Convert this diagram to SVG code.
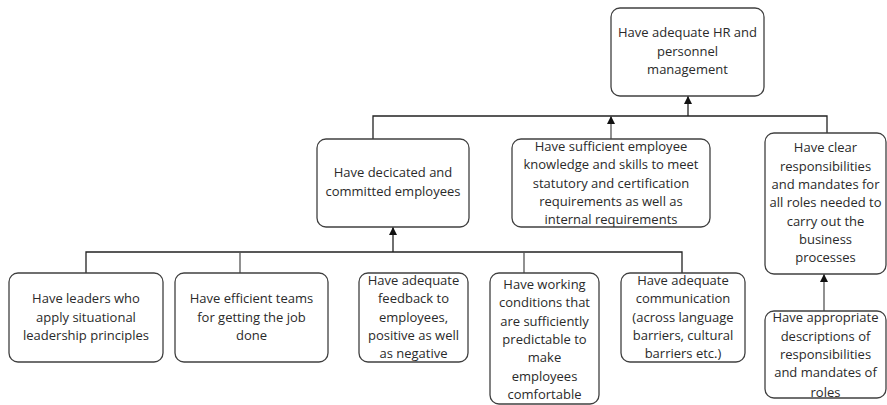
<svg xmlns="http://www.w3.org/2000/svg" width="887" height="405" viewBox="0 0 887 405">
<style>
.box{fill:#fff;stroke:#404040;stroke-width:1.3}
.t{font-family:"Open Sans","Noto Sans",sans-serif;font-size:13px;fill:#2a2a2a;text-anchor:middle}
.c{fill:none;stroke:#222;stroke-width:1.3}
.cg{fill:none;stroke:#555;stroke-width:1.3}
</style>
<defs>
<marker id="ah" viewBox="0 0 8 10" refX="8" refY="5" markerWidth="8" markerHeight="10" markerUnits="userSpaceOnUse" orient="auto">
<path d="M0,1 L8,5 L0,9 z" fill="#111"/>
</marker>
</defs>
<rect width="887" height="405" fill="#fff"/>
<g id="connectors">
<path class="c" d="M373,139 V116 H827 V133"/>
<path class="c" d="M688,116 V96" marker-end="url(#ah)"/>
<path class="cg" d="M611,139 V116" marker-end="url(#ah)"/>
<path class="c" d="M86,273 V252 H682 V273"/>
<path class="cg" d="M240,273 V252"/>
<path class="cg" d="M524,273 V252"/>
<path class="c" d="M393,252 V227" marker-end="url(#ah)"/>
<path class="cg" d="M824,311 V274" marker-end="url(#ah)"/>
</g>
<g id="n-top">
<rect class="box" x="611" y="8" width="153" height="88" rx="9"/>
<text class="t" x="687.5" y="37">Have adequate HR and</text>
<text class="t" x="687.5" y="56">personnel</text>
<text class="t" x="687.5" y="74">management</text>
</g>
<g id="n-dedicated">
<rect class="box" x="317" y="139" width="152" height="88" rx="9"/>
<text class="t" x="393" y="177">Have decicated and</text>
<text class="t" x="393" y="196">committed employees</text>
</g>
<g id="n-knowledge">
<rect class="box" x="512" y="139" width="198" height="88" rx="9"/>
<text class="t" x="611" y="151">Have sufficient employee</text>
<text class="t" x="611" y="169">knowledge and skills to meet</text>
<text class="t" x="611" y="188">statutory and certification</text>
<text class="t" x="611" y="206">requirements as well as</text>
<text class="t" x="611" y="224">internal requirements</text>
</g>
<g id="n-responsibilities">
<rect class="box" x="765" y="133" width="121" height="141" rx="9"/>
<text class="t" x="825.5" y="152">Have clear</text>
<text class="t" x="825.5" y="171">responsibilities</text>
<text class="t" x="825.5" y="189">and mandates for</text>
<text class="t" x="825.5" y="207">all roles needed to</text>
<text class="t" x="825.5" y="226">carry out the</text>
<text class="t" x="825.5" y="244">business</text>
<text class="t" x="825.5" y="262">processes</text>
</g>
<g id="n-descriptions">
<rect class="box" x="765" y="311" width="121" height="87" rx="9"/>
<text class="t" x="825.5" y="322">Have appropriate</text>
<text class="t" x="825.5" y="341">descriptions of</text>
<text class="t" x="825.5" y="359">responsibilities</text>
<text class="t" x="825.5" y="377">and mandates of</text>
<text class="t" x="825.5" y="397">roles</text>
</g>
<g id="n-leaders">
<rect class="box" x="9" y="273" width="154" height="89" rx="9"/>
<text class="t" x="86" y="303">Have leaders who</text>
<text class="t" x="86" y="322">apply situational</text>
<text class="t" x="86" y="340">leadership principles</text>
</g>
<g id="n-teams">
<rect class="box" x="175" y="273" width="153" height="89" rx="9"/>
<text class="t" x="251.5" y="303">Have efficient teams</text>
<text class="t" x="251.5" y="322">for getting the job</text>
<text class="t" x="251.5" y="340">done</text>
</g>
<g id="n-feedback">
<rect class="box" x="359" y="273" width="109" height="89" rx="9"/>
<text class="t" x="413.5" y="285">Have adequate</text>
<text class="t" x="413.5" y="303">feedback to</text>
<text class="t" x="413.5" y="322">employees,</text>
<text class="t" x="413.5" y="340">positive as well</text>
<text class="t" x="413.5" y="358">as negative</text>
</g>
<g id="n-conditions">
<rect class="box" x="490" y="273" width="109" height="131" rx="9"/>
<text class="t" x="544.5" y="289">Have working</text>
<text class="t" x="544.5" y="307">conditions that</text>
<text class="t" x="544.5" y="326">are sufficiently</text>
<text class="t" x="544.5" y="344">predictable to</text>
<text class="t" x="544.5" y="362">make</text>
<text class="t" x="544.5" y="381">employees</text>
<text class="t" x="544.5" y="399">comfortable</text>
</g>
<g id="n-communication">
<rect class="box" x="621" y="273" width="124" height="89" rx="9"/>
<text class="t" x="683" y="285">Have adequate</text>
<text class="t" x="683" y="303">communication</text>
<text class="t" x="683" y="322">(across language</text>
<text class="t" x="683" y="340">barriers, cultural</text>
<text class="t" x="683" y="358">barriers etc.)</text>
</g>
</svg>
